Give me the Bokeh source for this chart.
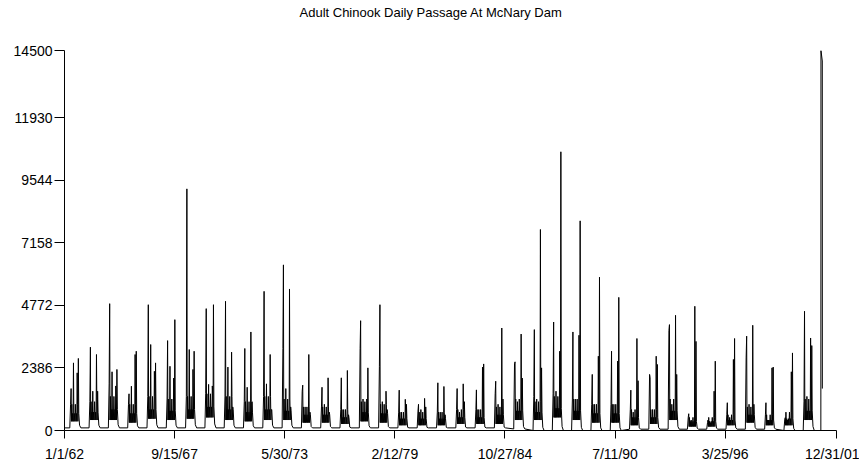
import pandas as pd
from bokeh.plotting import figure
from bokeh.models import FixedTicker, NumeralTickFormatter, Range1d, ColumnDataSource, Title
from bokeh.embed import file_html
from bokeh.resources import INLINE

TITLE = "Adult Chinook Daily Passage At McNary Dam"
X_TICK_LABELS = ["1/1/62", "9/15/67", "5/30/73", "2/12/79", "10/27/84", "7/11/90", "3/25/96", "12/31/01"]
X_TICK_DATES = ["1962-01-01", "1967-09-15", "1973-05-30", "1979-02-12",
                "1984-10-27", "1990-07-11", "1996-03-25", "2001-12-31"]
Y_TICKS = [0, 2386, 4772, 7158, 9544, 11930, 14500]
START = "1962-01-01"
END = "2001-12-31"

# Seasonal runs, one entry per year 1962..2000
YEARS = list(range(1962, 2001))
# day-of-year sample positions inside each yearly run
SEASON_DAYS = [100, 115, 125, 131, 138, 146, 154, 162, 170, 177, 185, 195,
               205, 215, 225, 233, 240, 247, 254, 262, 270, 285, 310]
PRE = [1000, 1100, 1780, 1000, 1300, 1200, 1300, 1400, 1310, 1100, 1300, 3130, 1500,
       900, 800, 3130, 2450, 700, 740, 700, 800, 800, 1400, 2540, 1300, 1400, 1200,
       1000, 1000, 800, 2140, 3810, 500, 300, 600, 2770, 600, 400, 1120]
SPRING = [1600, 3180, 4840, 1400, 4800, 3430, 9220, 4650, 4930, 3130, 5310, 6320, 1730,
          1650, 2010, 4190, 4800, 1540, 1000, 1820, 1600, 1550, 1880, 2620, 3850, 4140, 3760,
          2140, 3025, 1540, 2010, 4040, 640, 400, 1060, 3600, 1060, 490, 4550]
SUMMER = [2580, 1500, 2240, 1690, 3280, 2450, 3090, 1760, 2420, 1650, 1780, 1600, 900,
          1000, 800, 1200, 1100, 700, 800, 700, 700, 800, 1000, 1100, 1200, 1500, 1200,
          1000, 1000, 700, 800, 1000, 400, 300, 500, 1000, 400, 400, 1300]
FALL1 = [2200, 2900, 1700, 2900, 2260, 2000, 2330, 1700, 2990, 3760, 2900, 5400, 2900,
         2010, 2290, 1200, 1500, 1190, 1225, 1680, 1780, 2420, 3910, 3680, 7670, 3025, 3634,
         2835, 2650, 3510, 2835, 4395, 4740, 1500, 2710, 4015, 2390, 2240, 3530]
FALL2 = [2750, 1500, 2330, 3025, 2580, 4230, 3025, 4800, 900, 1100, 800, 900, 700,
         700, 600, 2390, 800, 1000, 900, 600, 1100, 2540, 1200, 2000, 2390, 10635, 8000,
         5850, 5080, 1900, 2520, 2140, 3400, 2645, 3510, 1000, 2420, 2960, 3240]
BODY_HI = [1000, 1100, 1300, 1000, 1300, 1200, 1300, 1400, 1300, 1100, 1300, 1200, 900,
           900, 800, 1100, 1000, 700, 700, 700, 800, 800, 900, 1200, 1100, 1300, 1200,
           1000, 1000, 800, 800, 1200, 500, 500, 600, 900, 600, 700, 1200]
BODY_MID = [650, 700, 800, 650, 800, 750, 800, 900, 800, 700, 800, 750, 600,
            600, 500, 700, 650, 450, 450, 450, 500, 500, 600, 750, 700, 850, 750,
            650, 650, 500, 500, 750, 350, 350, 400, 600, 400, 450, 750]
BODY_LO = [350, 400, 400, 300, 450, 400, 450, 500, 400, 350, 400, 400, 300,
           300, 250, 350, 300, 200, 200, 200, 250, 250, 250, 400, 400, 500, 400,
           300, 300, 200, 250, 400, 150, 150, 200, 300, 200, 200, 400]
TAIL = [200, 200, 220, 180, 220, 200, 220, 250, 200, 180, 200, 200, 150,
        150, 130, 180, 150, 120, 120, 120, 130, 130, 130, 150, 120, 150, 120,
        100, 100, 100, 120, 150, 90, 90, 100, 120, 100, 80, 150]
WINTER = [100, 100, 100, 100, 100, 100, 100, 100, 100, 100, 100, 100, 100,
          100, 100, 100, 100, 100, 100, 100, 100, 100, 100, 60, 0, 0, 0,
          0, 0, 50, 50, 50, 50, 50, 50, 50, 50, 0, 0]
# 2001 (last, partial year)
DAYS_2001 = [1, 68, 70, 95, 96]
VALUES_2001 = [0, 0, 14500, 14100, 1600]

start = pd.Timestamp(START)
end_day = (pd.Timestamp(END) - start).days


def day_index(year, doy):
    return (pd.Timestamp(year=year, month=1, day=1) - start).days + doy


xs, ys = [0], [WINTER[0]]
for i, yr in enumerate(YEARS):
    hi, mid, lo = BODY_HI[i], BODY_MID[i], BODY_LO[i]
    vals = [WINTER[i], PRE[i], SPRING[i], lo, hi, lo, mid, lo, SUMMER[i], lo, mid, lo,
            hi, lo, mid, lo, FALL1[i], hi, lo, FALL2[i], mid, TAIL[i], WINTER[i]]
    for d, v in zip(SEASON_DAYS, vals):
        xs.append(day_index(yr, d))
        ys.append(v)
for d, v in zip(DAYS_2001, VALUES_2001):
    xs.append(day_index(2001, d))
    ys.append(v)

src = ColumnDataSource(dict(x=xs, y=ys))

p = figure(width=859, height=467, output_backend="svg", toolbar_location=None,
           x_range=Range1d(0, end_day), y_range=Range1d(0, 14500),
           min_border_left=64, min_border_right=23, min_border_top=50, min_border_bottom=37)
p.line("x", "y", source=src, line_color="black", line_width=1)

p.outline_line_color = None
p.xgrid.visible = False
p.ygrid.visible = False
p.background_fill_color = "white"
p.border_fill_color = "white"

# blank spacer next to the frame, then the visible title further up
p.add_layout(Title(text="\u00a0", text_font_size="13px", standoff=12), "above")
p.add_layout(Title(text=TITLE, text_font="Liberation Sans", text_font_size="13px",
                   text_font_style="normal", text_color="black", align="left",
                   offset=235, standoff=4), "above")

tick_days = [(pd.Timestamp(d) - start).days for d in X_TICK_DATES]

for ax in (p.xaxis[0], p.yaxis[0]):
    ax.axis_line_color = "black"
    ax.axis_line_width = 1
    ax.major_tick_line_color = "black"
    ax.major_tick_in = 0
    ax.minor_tick_line_color = None
    ax.major_label_text_font = "Liberation Sans"
    ax.major_label_text_font_size = "14px"
    ax.major_label_text_color = "black"

p.xaxis[0].ticker = FixedTicker(ticks=tick_days)
p.xaxis[0].major_label_overrides = {int(d): t for d, t in zip(tick_days, X_TICK_LABELS)}
p.xaxis[0].major_tick_out = 8
p.xaxis[0].major_label_standoff = 7

p.yaxis[0].ticker = FixedTicker(ticks=Y_TICKS)
p.yaxis[0].formatter = NumeralTickFormatter(format="0")
p.yaxis[0].major_tick_out = 10
p.yaxis[0].major_label_standoff = 2

open("out.html", "w").write(file_html(p, INLINE))
